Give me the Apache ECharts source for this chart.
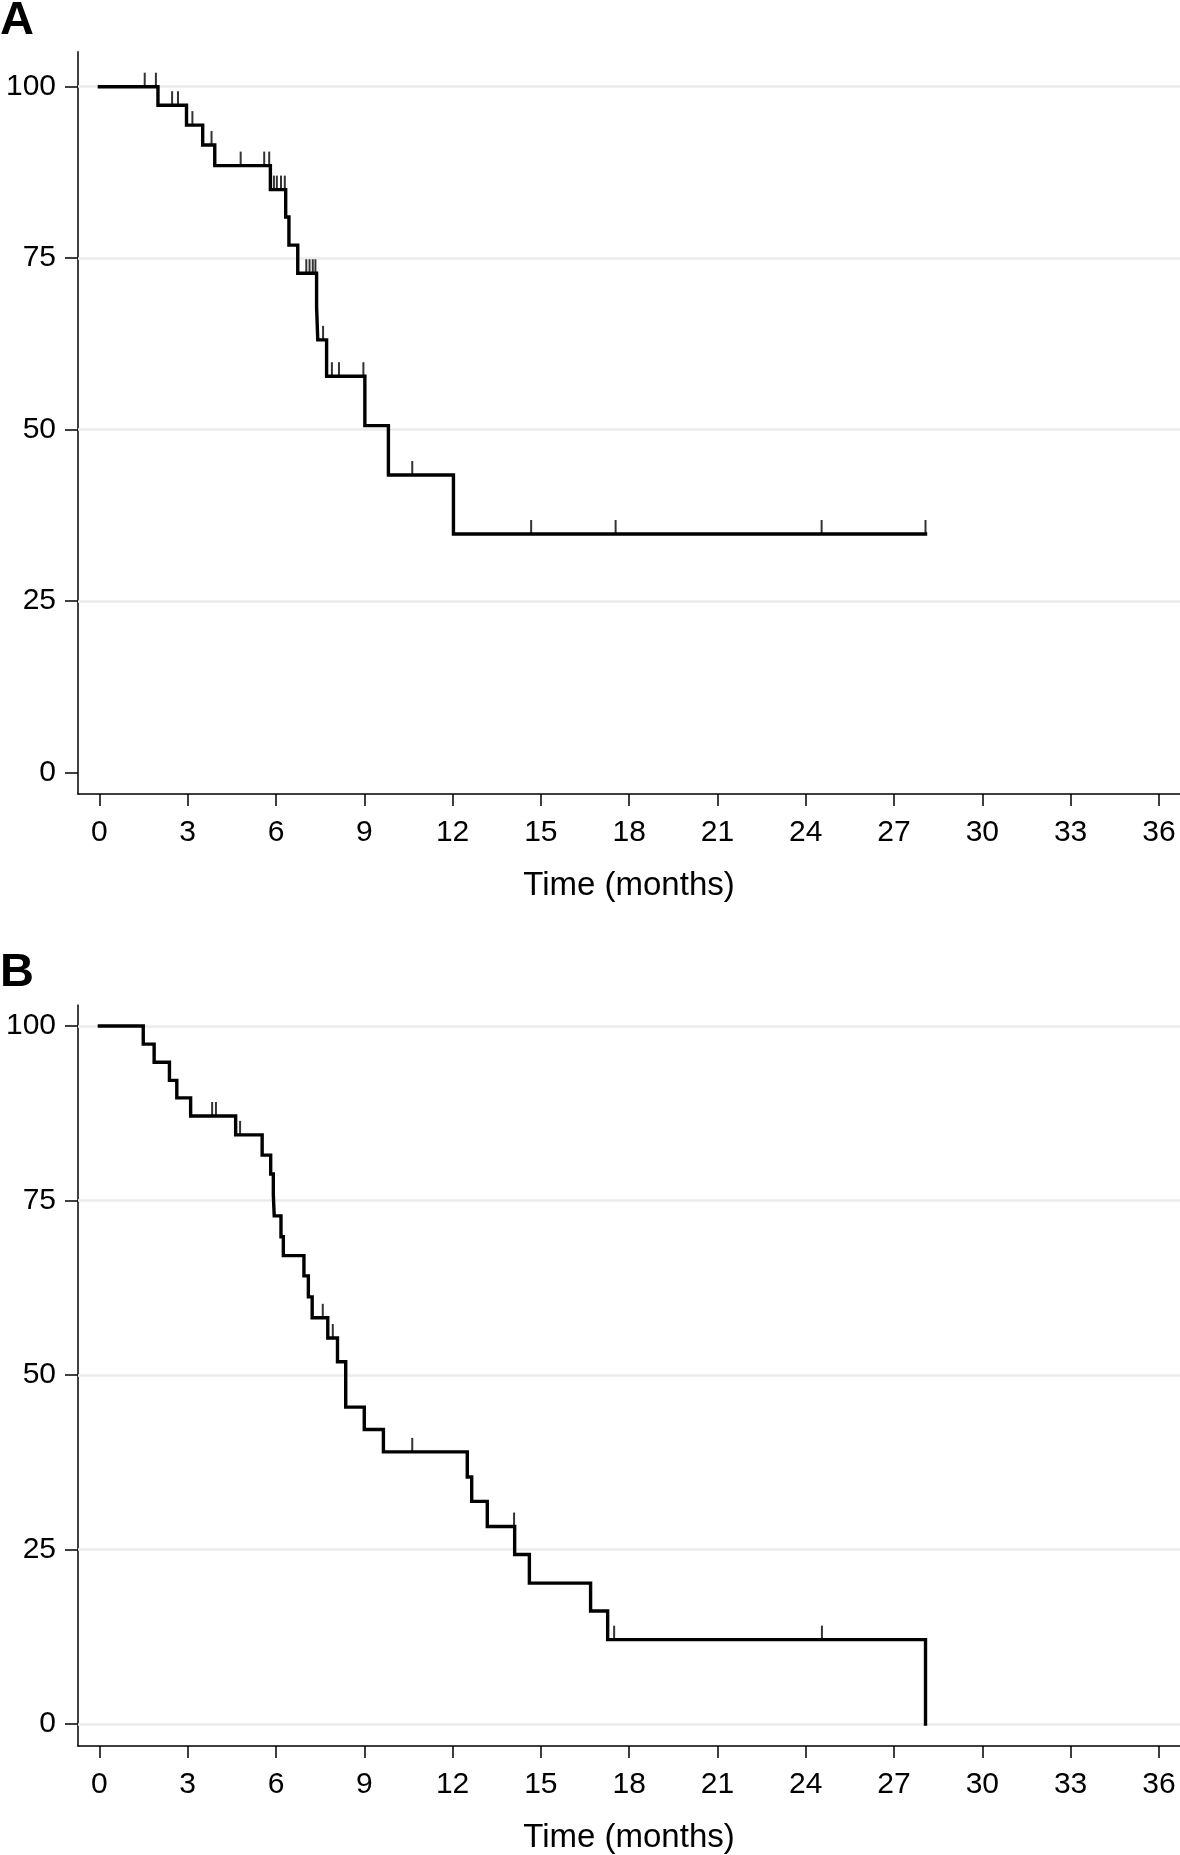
<!DOCTYPE html>
<html>
<head>
<meta charset="utf-8">
<script src="https://cdn.jsdelivr.net/npm/echarts@6/dist/echarts.min.js"></script>
<style>
html,body{margin:0;padding:0;background:#fff;}
#chart{width:1180px;height:1855px;}
</style>
</head>
<body>
<div id="chart"></div>
<script>
// ---- data ----
const xTicks = [0, 3, 6, 9, 12, 15, 18, 21, 24, 27, 30, 33, 36];
const yTicks = [0, 25, 50, 75, 100];
const gridLinesA = [25, 50, 75, 100];
const gridLinesB = [0, 25, 50, 75, 100];
const xTitle = 'Time (months)';

// Panel A: Kaplan-Meier steps (time, survival %)
const timeA = [0, 1.99, 2.96, 3.51, 3.92, 5.81, 6.33, 6.44, 6.74, 7.38, 7.42, 7.72, 9.02, 9.82, 12.03, 28.07];
const survA = [100, 97.3, 94.4, 91.5, 88.5, 85.0, 81.0, 76.9, 72.8, 67.9, 63.1, 57.8, 50.6, 43.4, 34.8, 34.8];
// Panel A censored observations
const censTimeA = [1.54, 1.92, 2.47, 2.67, 3.16, 3.81, 4.80, 5.60, 5.77, 5.93, 6.03, 6.17, 6.30, 7.03, 7.14, 7.25, 7.34, 7.60, 7.90, 8.14, 8.97, 10.63, 14.67, 17.54, 24.54, 28.07];
const censSurvA = [100, 100, 97.3, 97.3, 94.4, 91.5, 88.5, 88.5, 88.5, 85.0, 85.0, 85.0, 85.0, 72.8, 72.8, 72.8, 72.8, 63.1, 57.8, 57.8, 57.8, 43.4, 34.8, 34.8, 34.8, 34.8];

// Panel B
const timeB = [0, 1.49, 1.86, 2.38, 2.63, 3.10, 4.63, 5.53, 5.82, 5.91, 5.94, 6.17, 6.25, 6.95, 7.10, 7.23, 7.76, 8.09, 8.37, 9.00, 9.65, 12.50, 12.65, 13.18, 14.11, 14.61, 16.69, 17.27, 28.07];
const survB = [100, 97.4, 94.8, 92.2, 89.7, 87.1, 84.4, 81.5, 78.8, 75.8, 72.8, 69.8, 67.1, 64.2, 61.2, 58.2, 55.3, 51.9, 45.4, 42.2, 39.0, 35.4, 31.9, 28.3, 24.3, 20.2, 16.2, 12.1, 0];
const censTimeB = [3.83, 3.96, 4.78, 7.59, 7.93, 10.63, 14.09, 17.49, 24.55];
const censSurvB = [87.1, 87.1, 84.4, 58.2, 55.3, 39.0, 28.3, 12.1, 12.1];

// ---- chart ----
const FONT = "'Liberation Sans', Arial, Helvetica, sans-serif";
const zip = (a, b) => a.map((v, i) => [v, b[i]]);

function xAxisCfg(gridIndex) {
  return {
    type: 'value', gridIndex: gridIndex,
    min: -0.727, max: 36.717,
    axisLine: { show: true, onZero: false, lineStyle: { color: '#000', width: 1.5 } },
    axisTick: { show: true, inside: false, length: 12, customValues: xTicks, lineStyle: { color: '#000', width: 1.5 } },
    axisLabel: { show: true, customValues: xTicks, margin: 24, color: '#000', fontSize: 30, fontFamily: FONT },
    splitLine: { show: false },
    name: xTitle, nameLocation: 'middle', nameGap: 75,
    nameTextStyle: { color: '#000', fontSize: 33, fontFamily: FONT }
  };
}
function yAxisCfg(gridIndex, min, max) {
  return {
    type: 'value', gridIndex: gridIndex,
    min: min, max: max,
    axisLine: { show: true, onZero: false, lineStyle: { color: '#000', width: 1.5 } },
    axisTick: { show: true, inside: false, length: 13, customValues: yTicks, lineStyle: { color: '#000', width: 1.5 } },
    axisLabel: { show: true, customValues: yTicks, margin: 22, color: '#000', fontSize: 30, fontFamily: FONT },
    splitLine: { show: false }
  };
}
function gridSeries(idx, vals) {
  return {
    type: 'line', xAxisIndex: idx, yAxisIndex: idx, data: [], z: 1, silent: true,
    markLine: {
      z: 1, silent: true, symbol: ['none', 'none'], label: { show: false }, animation: false,
      lineStyle: { color: '#ebebeb', width: 2.5, type: 'solid' },
      data: vals.map(v => ({ yAxis: v }))
    }
  };
}
function kmSeries(idx, t, s) {
  return {
    type: 'line', xAxisIndex: idx, yAxisIndex: idx, step: 'end', z: 6,
    showSymbol: false, symbol: 'none', animation: false,
    lineStyle: { color: '#000', width: 3.4, cap: 'square', join: 'miter' },
    data: zip(t, s)
  };
}
function censSeries(idx, t, s) {
  return {
    type: 'scatter', xAxisIndex: idx, yAxisIndex: idx, z: 7,
    symbol: 'rect', symbolSize: [2, 14], symbolOffset: [0, '-50%'],
    itemStyle: { color: '#000' }, animation: false,
    data: zip(t, s)
  };
}

const chart = echarts.init(document.getElementById('chart'), null, { renderer: 'canvas' });
chart.setOption({
  backgroundColor: '#fff',
  animation: false,
  title: [
    { text: 'A', left: 0, top: -2, padding: 0, textStyle: { fontSize: 47, fontWeight: 'bold', color: '#000', fontFamily: FONT } },
    { text: 'B', left: 0, top: 950, padding: 0, textStyle: { fontSize: 47, fontWeight: 'bold', color: '#000', fontFamily: FONT } }
  ],
  grid: [
    { left: 78, right: 0, top: 51.7, height: 742.3, containLabel: false },
    { left: 78, right: 0, top: 1005, height: 741.7, containLabel: false }
  ],
  xAxis: [xAxisCfg(0), xAxisCfg(1)],
  yAxis: [yAxisCfg(0, -3.105, 105.1), yAxisCfg(1, -3.13, 103.0)],
  series: [
    gridSeries(0, gridLinesA),
    gridSeries(1, gridLinesB),
    kmSeries(0, timeA, survA),
    kmSeries(1, timeB, survB),
    censSeries(0, censTimeA, censSurvA),
    censSeries(1, censTimeB, censSurvB)
  ]
});
</script>
</body>
</html>
